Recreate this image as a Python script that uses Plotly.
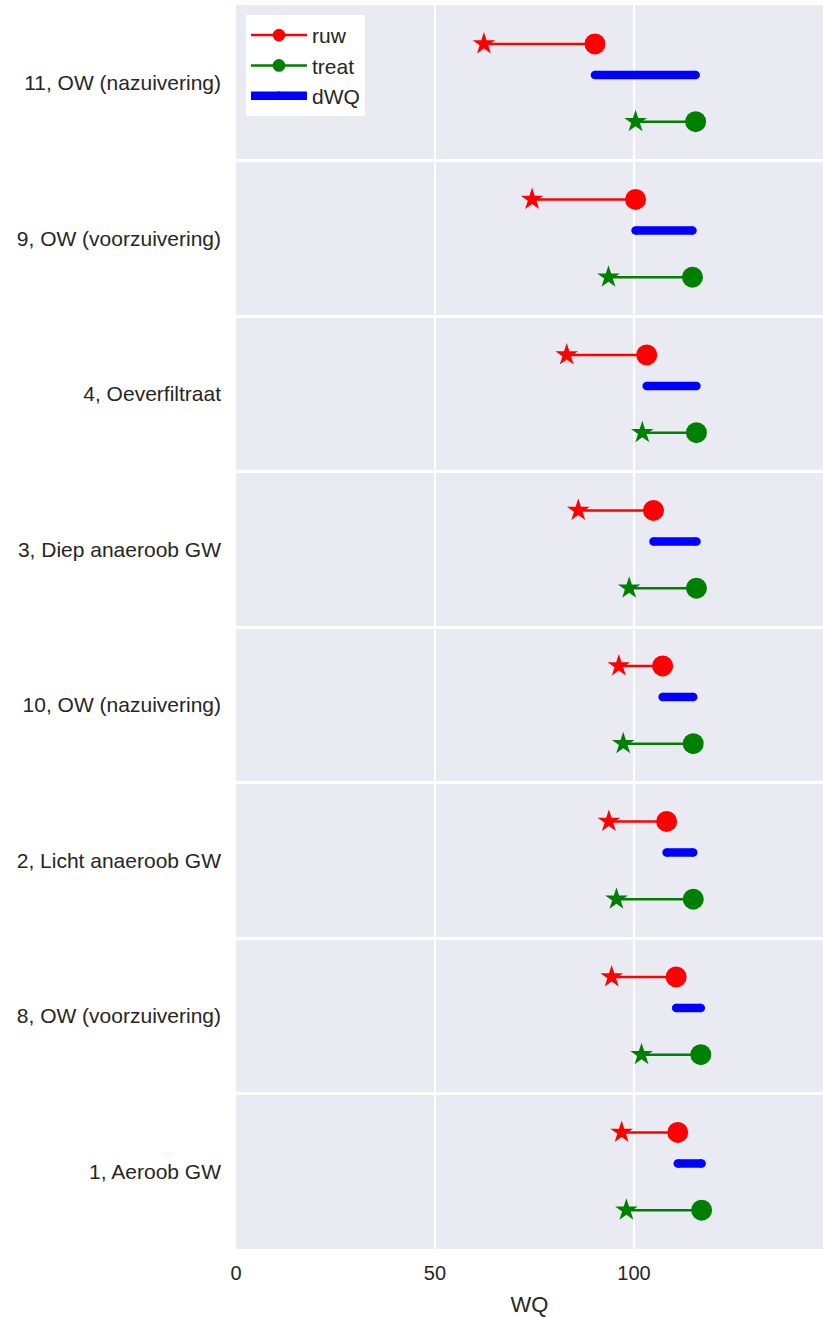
import plotly.graph_objects as go

# Sites, listed bottom to top
sites = [
    "1, Aeroob GW",
    "8, OW (voorzuivering)",
    "2, Licht anaeroob GW",
    "10, OW (nazuivering)",
    "3, Diep anaeroob GW",
    "4, Oeverfiltraat",
    "9, OW (voorzuivering)",
    "11, OW (nazuivering)",
]

# Raw water: minimum (star) and mean (circle) WQ
ruw_min = [96.9, 94.4, 93.7, 96.2, 86.0, 83.1, 74.4, 62.3]
ruw_mean = [111.0, 110.6, 108.2, 107.2, 104.9, 103.2, 100.4, 90.2]

# Treated water: minimum (star) and mean (circle) WQ
treat_min = [98.1, 101.9, 95.6, 97.3, 98.8, 102.1, 93.6, 100.4]
treat_mean = [117.0, 116.8, 114.9, 114.9, 115.7, 115.7, 114.7, 115.5]

x_ticks = [0, 50, 100]

RED, GREEN, BLUE = "#ff0000", "#008000", "#0000ff"
INK = "#262626"
FONT = "Liberation Sans, Arial, sans-serif"

pos = list(range(len(sites)))


def dumbbell(lo, hi, offset):
    xs, ys, sym, size = [], [], [], []
    for p, a, b in zip(pos, lo, hi):
        xs += [b, a, None]
        ys += [p + offset, p + offset, None]
        sym += ["circle", "star", "circle"]
        size += [21, 17, 0]
    return xs, ys, sym, size


fig = go.Figure()

for name, lo, hi, off, col in [
    ("ruw", ruw_min, ruw_mean, 0.25, RED),
    ("treat", treat_min, treat_mean, -0.25, GREEN),
]:
    xs, ys, sym, size = dumbbell(lo, hi, off)
    fig.add_trace(go.Scatter(
        x=xs, y=ys, name=name, mode="lines+markers",
        line=dict(color=col, width=2.5),
        marker=dict(color=col, symbol=sym, size=size, opacity=1,
                    line=dict(width=0)),
        connectgaps=False,
    ))

# WQ gain: from raw mean to treated mean
dx, dy = [], []
for p, a, b in zip(pos, ruw_mean, treat_mean):
    dx += [a, b, None]
    dy += [p + 0.05, p + 0.05, None]
fig.add_trace(go.Scatter(
    x=dx, y=dy, name="dWQ", mode="lines+markers",
    line=dict(color=BLUE, width=8.5),
    marker=dict(color=BLUE, size=8.5, symbol="circle", opacity=1,
                line=dict(width=0)),
))

fig.update_layout(
    width=823, height=1317,
    margin=dict(l=236, r=0, t=5, b=68),
    paper_bgcolor="white",
    plot_bgcolor="#eaeaf2",
    font=dict(family=FONT, size=20, color=INK),
    showlegend=True,
    legend=dict(
        x=0.017, y=0.992, xanchor="left", yanchor="top",
        bgcolor="white", borderwidth=0,
        font=dict(size=21, color=INK),
        itemwidth=56, tracegroupgap=0,
    ),
    xaxis=dict(
        range=[0, 147.5], tickvals=x_ticks, ticktext=[str(v) for v in x_ticks],
        showgrid=True, gridcolor="white", gridwidth=2,
        zeroline=False, showline=False, ticks="",
        ticklabelstandoff=10,
        title=dict(text="WQ", font=dict(size=22, color=INK), standoff=14),
        tickfont=dict(size=20, color=INK),
    ),
    yaxis=dict(
        range=[-0.5, 7.5], tickvals=pos, ticktext=sites,
        showgrid=False, zeroline=False, showline=False, ticks="",
        ticklabelstandoff=14,
        tickfont=dict(size=21, color=INK),
        minor=dict(tick0=0.5, dtick=1, showgrid=True,
                   gridcolor="white", gridwidth=3, ticks=""),
    ),
)

fig.write_html("out.html")
